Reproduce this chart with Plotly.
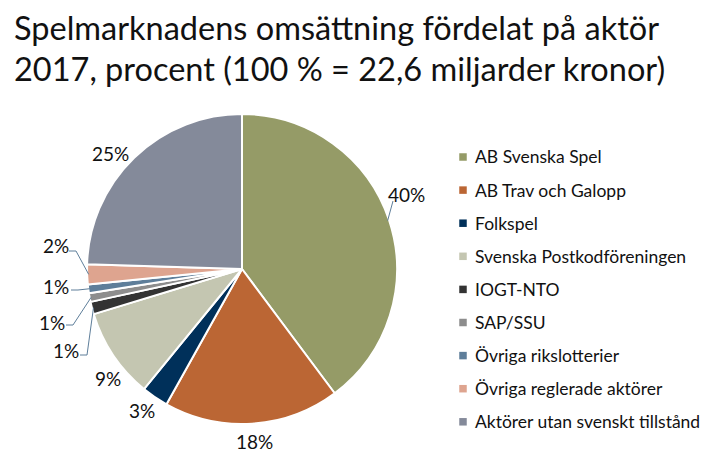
import math
import plotly.graph_objects as go

# ---------------- data ----------------
categories = [
    "AB Svenska Spel",
    "AB Trav och Galopp",
    "Folkspel",
    "Svenska Postkodföreningen",
    "IOGT-NTO",
    "SAP/SSU",
    "Övriga rikslotterier",
    "Övriga reglerade aktörer",
    "Aktörer utan svenskt tillstånd",
]
shares = [39.8, 18.3, 2.8, 9.4, 1.3, 0.9, 0.9, 2.1, 24.5]
colors = ["#959B67", "#BB6634", "#00305A", "#C4C6B1", "#333333",
          "#8D8D8D", "#5E7E9A", "#DEA48F", "#848A9A"]
title_lines = ["Spelmarknadens omsättning fördelat på aktör",
               "2017, procent (100 % = 22,6 miljarder kronor)"]

# ---------------- layout constants (pixels) ----------------
W, H = 718, 452
CX, CY, R = 242, 269, 155
FONT = "Lato"
TEXT_COLOR = "#111111"
LINE_COLOR = "#5E7E9A"

# label centre positions (px) and, for leader-lined labels, the start point
label_pos = {
    "AB Svenska Spel": (406, 195),
    "AB Trav och Galopp": (254, 441),
    "Folkspel": (142, 410),
    "Svenska Postkodföreningen": (108, 378),
    "IOGT-NTO": (66, 350),
    "SAP/SSU": (52, 322),
    "Övriga rikslotterier": (56, 286),
    "Övriga reglerade aktörer": (56, 246),
    "Aktörer utan svenskt tillstånd": (110, 153),
}
leader_start = {
    "AB Svenska Spel": (393, 201),
    "IOGT-NTO": (80, 355),
    "SAP/SSU": (66, 325),
    "Övriga rikslotterier": (71, 290),
    "Övriga reglerade aktörer": (69, 251),
}


def px(x):
    return x / W


def py(y):
    return 1 - y / H


fig = go.Figure()
fig.add_trace(go.Pie(
    labels=categories,
    values=shares,
    sort=False,
    direction="clockwise",
    rotation=0,
    marker=dict(colors=colors, line=dict(color="white", width=2)),
    textinfo="none",
    hoverinfo="label+value",
    showlegend=False,
    domain=dict(x=[px(CX - R), px(CX + R)], y=[py(CY + R), py(CY - R)]),
))

annotations = []
shapes = []
total = sum(shares)
cum = 0.0
for cat, v in zip(categories, shares):
    mid = (cum + v / 2) / total * 2 * math.pi
    cum += v
    ex = CX + R * 0.99 * math.sin(mid)
    ey = CY - R * 0.99 * math.cos(mid)
    lx, ly = label_pos[cat]
    annotations.append(dict(
        x=px(lx), y=py(ly), xref="paper", yref="paper",
        text=f"{int(v + 0.5)}%", showarrow=False,
        xanchor="center", yanchor="middle",
        font=dict(family=FONT, size=19, color=TEXT_COLOR),
    ))
    if cat in leader_start:
        sx, sy = leader_start[cat]
        if cat == "AB Svenska Spel":
            path = f"M {px(ex)} {py(ey)} L {px(sx)} {py(sy)}"
        else:
            elx = sx + 7
            path = (f"M {px(sx)} {py(sy)} L {px(elx)} {py(sy)} "
                    f"L {px(ex)} {py(ey)}")
        shapes.append(dict(type="path", path=path, xref="paper", yref="paper",
                           line=dict(color=LINE_COLOR, width=1)))

# manual legend
LEG_X, LEG_Y0, LEG_STEP, SQ = 463, 157, 33.1, 7.5
for i, (cat, col) in enumerate(zip(categories, colors)):
    y = LEG_Y0 + i * LEG_STEP
    shapes.append(dict(type="rect", xref="paper", yref="paper",
                       x0=px(LEG_X - SQ / 2), x1=px(LEG_X + SQ / 2),
                       y0=py(y + SQ / 2), y1=py(y - SQ / 2),
                       fillcolor=col, line=dict(width=0)))
    annotations.append(dict(
        x=px(473), y=py(y), xref="paper", yref="paper",
        text=cat, showarrow=False, xanchor="left", yanchor="middle",
        font=dict(family=FONT, size=17.5, color=TEXT_COLOR),
    ))

# title lines
for i, t in enumerate(title_lines):
    annotations.append(dict(
        x=px(12), y=py(28 + i * 41), xref="paper", yref="paper",
        text=t, showarrow=False, xanchor="left", yanchor="middle",
        font=dict(family=FONT, size=32.5, color=TEXT_COLOR),
    ))

fig.update_layout(
    width=W, height=H, autosize=False,
    margin=dict(l=0, r=0, t=0, b=0),
    paper_bgcolor="white", plot_bgcolor="white",
    annotations=annotations, shapes=shapes,
)

fig.write_html(
    "out.html",
    config={"displayModeBar": False},
    post_script="document.body.style.margin='0';document.body.style.overflow='hidden';",
)
